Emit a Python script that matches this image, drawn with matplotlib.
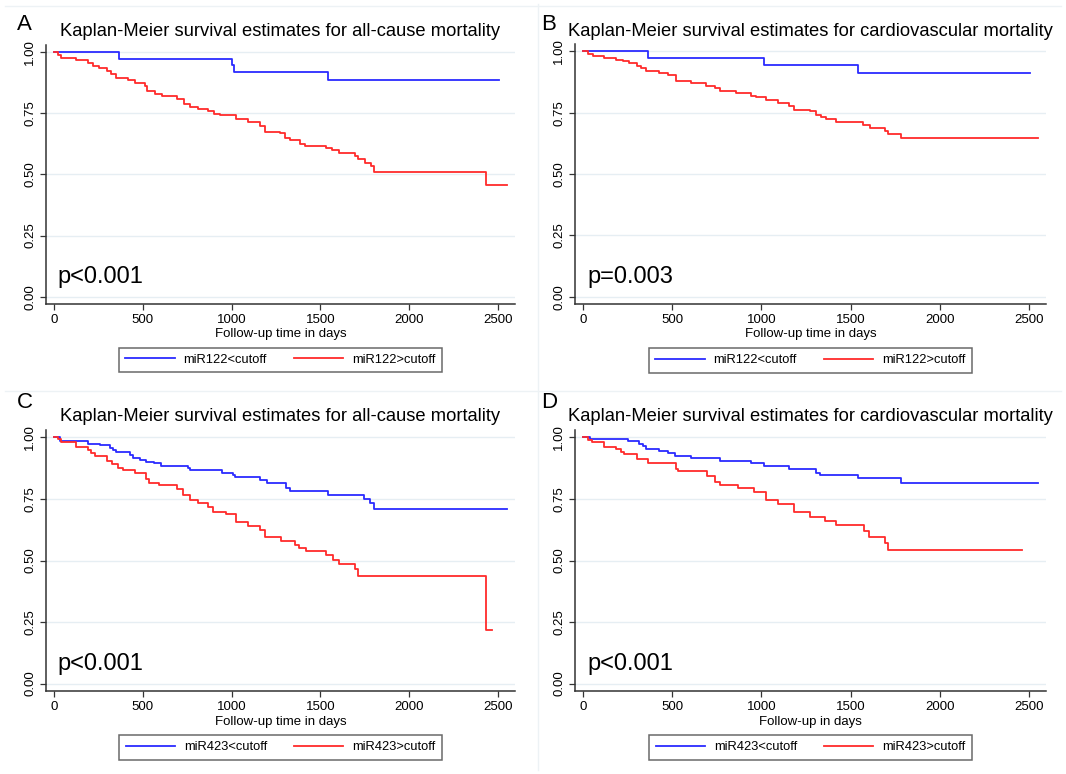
import matplotlib
matplotlib.use("Agg")
import matplotlib.pyplot as plt
from matplotlib.lines import Line2D

plt.rcParams["font.family"] = ["Liberation Sans", "DejaVu Sans"]

# ---- data ----
# A: miR122, all-cause
a_lo_t = [0, 364, 1003, 1014, 1544, 2506]
a_lo_s = [1.0, 0.974, 0.947, 0.918, 0.886, 0.886]
a_hi_t = [0, 23, 38, 122, 192, 220, 254, 299, 323, 351, 417, 455, 515, 526, 567, 609,
          695, 731, 765, 811, 868, 900, 933, 1027, 1093, 1159, 1187, 1272, 1300, 1328,
          1384, 1412, 1531, 1563, 1606, 1694, 1713, 1751, 1782, 1801, 2432, 2549]
a_hi_s = [1.0, 0.99, 0.978, 0.967, 0.956, 0.944, 0.936, 0.925, 0.913, 0.896, 0.886, 0.873,
          0.861, 0.842, 0.831, 0.823, 0.811, 0.790, 0.777, 0.770, 0.759, 0.749, 0.742,
          0.729, 0.716, 0.698, 0.674, 0.668, 0.651, 0.640, 0.624, 0.616, 0.609, 0.599,
          0.588, 0.575, 0.563, 0.549, 0.535, 0.511, 0.455, 0.455]

# B: miR122, cardiovascular
b_lo_t = [0, 363, 1012, 1541, 2507]
b_lo_s = [1.0, 0.974, 0.946, 0.911, 0.911]
b_hi_t = [0, 26, 54, 120, 185, 223, 260, 301, 325, 353, 428, 475, 522, 606, 690, 737,
          765, 858, 942, 970, 1027, 1092, 1157, 1185, 1270, 1307, 1335, 1363, 1416, 1569,
          1606, 1690, 1709, 1784, 2550]
b_hi_s = [1.0, 0.99, 0.982, 0.973, 0.966, 0.959, 0.952, 0.941, 0.932, 0.918, 0.911, 0.905,
          0.881, 0.873, 0.860, 0.850, 0.839, 0.830, 0.816, 0.812, 0.800, 0.789, 0.778,
          0.762, 0.755, 0.741, 0.734, 0.723, 0.711, 0.700, 0.689, 0.676, 0.662, 0.646,
          0.646]

# C: miR423, all-cause
c_lo_t = [0, 32, 192, 257, 314, 333, 351, 426, 445, 483, 520, 562, 605, 755, 764, 943,
          1009, 1018, 1159, 1197, 1306, 1328, 1544, 1745, 1779, 1801, 2549]
c_lo_s = [1.0, 0.986, 0.975, 0.969, 0.958, 0.948, 0.939, 0.928, 0.918, 0.910, 0.901, 0.894,
          0.884, 0.877, 0.869, 0.857, 0.846, 0.839, 0.826, 0.815, 0.796, 0.781, 0.768,
          0.751, 0.733, 0.710, 0.710]
c_hi_t = [0, 23, 41, 122, 192, 210, 229, 299, 329, 361, 389, 455, 520, 533, 592, 693,
          727, 765, 811, 868, 896, 967, 1027, 1093, 1159, 1187, 1275, 1356, 1381, 1418,
          1531, 1572, 1606, 1694, 1713, 2432, 2464]
c_hi_s = [1.0, 0.992, 0.982, 0.962, 0.948, 0.937, 0.924, 0.905, 0.891, 0.877, 0.866, 0.856,
          0.832, 0.816, 0.808, 0.789, 0.764, 0.747, 0.733, 0.717, 0.699, 0.687, 0.658,
          0.642, 0.624, 0.597, 0.580, 0.563, 0.549, 0.537, 0.522, 0.503, 0.485, 0.465,
          0.437, 0.219, 0.219]

# D: miR423, cardiovascular
d_lo_t = [0, 39, 251, 316, 335, 353, 428, 475, 518, 606, 765, 942, 1012, 1157, 1307, 1326,
          1541, 1784, 2550]
d_lo_s = [1.0, 0.993, 0.986, 0.975, 0.965, 0.954, 0.946, 0.937, 0.924, 0.915, 0.906, 0.894,
          0.884, 0.872, 0.856, 0.847, 0.834, 0.815, 0.815]
d_hi_t = [0, 26, 50, 120, 185, 213, 232, 301, 363, 522, 531, 694, 737, 765, 867, 961, 1027,
          1092, 1185, 1273, 1359, 1416, 1574, 1603, 1690, 1709, 2463]
d_hi_s = [1.0, 0.989, 0.980, 0.962, 0.951, 0.941, 0.931, 0.911, 0.894, 0.873, 0.862, 0.842,
          0.819, 0.808, 0.796, 0.778, 0.747, 0.730, 0.696, 0.678, 0.659, 0.644, 0.619,
          0.597, 0.572, 0.542, 0.542]

panel_letters = ["A", "B", "C", "D"]
titles = ["Kaplan-Meier survival estimates for all-cause mortality",
          "Kaplan-Meier survival estimates for cardiovascular mortality",
          "Kaplan-Meier survival estimates for all-cause mortality",
          "Kaplan-Meier survival estimates for cardiovascular mortality"]
xlabels = ["Follow-up time in days", "Follow-up time in days",
           "Follow-up time in days", "Follow-up in days"]
p_values = ["p<0.001", "p=0.003", "p<0.001", "p<0.001"]
legend_labels = [["miR122<cutoff", "miR122>cutoff"], ["miR122<cutoff", "miR122>cutoff"],
                 ["miR423<cutoff", "miR423>cutoff"], ["miR423<cutoff", "miR423>cutoff"]]
curves = [(a_lo_t, a_lo_s, a_hi_t, a_hi_s), (b_lo_t, b_lo_s, b_hi_t, b_hi_s),
          (c_lo_t, c_lo_s, c_hi_t, c_hi_s), (d_lo_t, d_lo_s, d_hi_t, d_hi_s)]
x_ticks = [0, 500, 1000, 1500, 2000, 2500]
y_ticks = [0.0, 0.25, 0.5, 0.75, 1.0]

BLUE = "#2b2bff"
RED = "#ff2b2b"

fig = plt.figure(figsize=(10.66, 7.74), dpi=100)

# axes boxes in pixels: (left, top, right, bottom)
boxes = [(46, 45, 515, 304), (575, 44, 1046, 304),
         (46, 430, 515, 691), (575, 430, 1046, 691)]
title_pos = [(280, 32), (810, 31), (280, 417), (810, 417)]
letter_pos = [(17, 25), (541, 25), (17, 402), (541, 402)]

W, H = 1066, 774
for i, (l, t, r, b) in enumerate(boxes):
    ax = fig.add_axes([l / W, 1 - b / H, (r - l) / W, (b - t) / H])
    lo_t, lo_s, hi_t, hi_s = curves[i]
    ax.step(lo_t, lo_s, where="post", color=BLUE, lw=1.3)
    ax.step(hi_t, hi_s, where="post", color=RED, lw=1.3)

    ax.set_xlim(-45, 2595)
    ax.set_ylim(-0.03, 1.03)
    ax.set_xticks(x_ticks)
    ax.set_yticks(y_ticks)
    ax.set_yticklabels([f"{v:.2f}" for v in y_ticks], rotation=90, va="center")
    ax.tick_params(labelsize=9.5, length=4, width=0.9, color="#333333", pad=3)
    ax.grid(axis="y", color="#e6eef3", lw=1.0)
    ax.set_axisbelow(True)
    for s in ["top", "right"]:
        ax.spines[s].set_visible(False)
    for s in ["left", "bottom"]:
        ax.spines[s].set_color("#333333")
        ax.spines[s].set_linewidth(1.1)

    ax.set_xlabel(xlabels[i], fontsize=9.5, labelpad=2)
    ax.text(22, 0.08, p_values[i], fontsize=17, va="center", ha="left")

    fig.text(title_pos[i][0] / W, 1 - title_pos[i][1] / H, titles[i], fontsize=13.2,
             ha="center", va="center")
    fig.text(letter_pos[i][0] / W, 1 - letter_pos[i][1] / H, panel_letters[i],
             fontsize=16, ha="left", va="center")

    handles = [Line2D([], [], color=BLUE, lw=1.3), Line2D([], [], color=RED, lw=1.3)]
    leg = ax.legend(handles, legend_labels[i], loc="upper center",
                    bbox_to_anchor=(0.5, -0.168), ncol=2, fontsize=9.3,
                    frameon=True, fancybox=False, edgecolor="#444444",
                    handlelength=3.8, columnspacing=2.1, handletextpad=0.7,
                    borderpad=0.5, borderaxespad=0)
    leg.get_frame().set_linewidth(1.1)

# faint panel separators
sep = "#edf2f5"
fig.add_artist(Line2D([0.005, 0.995], [1 - 6 / H, 1 - 6 / H], color=sep, lw=1))
fig.add_artist(Line2D([0.005, 0.995], [1 - 391 / H, 1 - 391 / H], color=sep, lw=1))
fig.add_artist(Line2D([538 / W, 538 / W], [0.005, 0.995], color=sep, lw=1))

fig.savefig("out.png", dpi=100)
